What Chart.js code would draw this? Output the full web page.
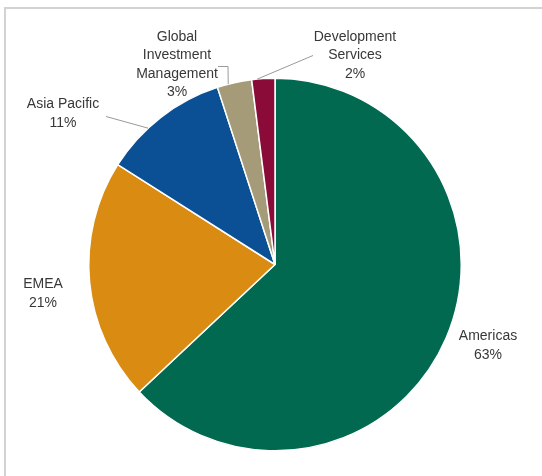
<!DOCTYPE html>
<html>
<head>
<meta charset="utf-8">
<script src="https://cdn.jsdelivr.net/npm/chart.js@4/dist/chart.umd.min.js"></script>
<style>
  html, body { margin: 0; padding: 0; background: #fff; overflow: hidden; }
  #wrap { position: relative; width: 542px; height: 476px; }
  #frame {
    position: absolute; left: 4px; top: 7px; right: -10px; bottom: -10px;
    border-top: 2px solid #d2d2d2; border-left: 2px solid #d2d2d2;
  }
  canvas { position: absolute; left: 0; top: 0; }
</style>
</head>
<body>
<div id="wrap">
  <div id="frame"></div>
  <canvas id="revChart" width="542" height="476"></canvas>
</div>
<script>
// revenue split by segment, clockwise from 12 o'clock
const regions = ['Americas', 'EMEA', 'Asia Pacific', 'Global\nInvestment\nManagement', 'Development\nServices'];
const shares = [63, 21, 11, 3, 2];
const sliceColors = ['#00694f', '#d98b12', '#0b5095', '#a59b78', '#8a0b38'];

// where each label block sits relative to the pie centre, and its leader line
const labelPlace = [
  { dx: 213, dy: 81 },
  { dx: -232, dy: 29 },
  { dx: -212, dy: -151, leader: [[-169, -148]], at: 0.37 },
  { dx: -98, dy: -200, leader: [[-57, -198], [-47, -198]], at: 0.32 },
  { dx: 80, dy: -209, leader: [[38, -209]], at: 0.24 }
];

const sliceLabels = {
  id: 'sliceLabels',
  afterDatasetsDraw(chart, args, opts) {
    const ctx = chart.ctx;
    const meta = chart.getDatasetMeta(0);
    ctx.save();
    ctx.font = opts.font;
    ctx.textAlign = 'center';
    ctx.textBaseline = 'middle';
    meta.data.forEach((arc, i) => {
      const p = labelPlace[i];
      const { x, y, startAngle, endAngle, outerRadius } =
        arc.getProps(['x', 'y', 'startAngle', 'endAngle', 'outerRadius'], true);

      if (p.leader) {
        const a = startAngle + (endAngle - startAngle) * p.at;
        ctx.beginPath();
        ctx.strokeStyle = opts.lineColor;
        ctx.lineWidth = 1;
        p.leader.forEach(([lx, ly], k) => {
          if (k === 0) ctx.moveTo(x + lx, y + ly);
          else ctx.lineTo(x + lx, y + ly);
        });
        ctx.lineTo(x + Math.cos(a) * outerRadius, y + Math.sin(a) * outerRadius);
        ctx.stroke();
      }

      const lines = regions[i].split('\n').concat(shares[i] + '%');
      const top = y + p.dy - (lines.length - 1) * opts.lineHeight / 2;
      ctx.fillStyle = opts.color;
      lines.forEach((t, k) => ctx.fillText(t, x + p.dx, top + k * opts.lineHeight));
    });
    ctx.restore();
  }
};

new Chart(document.getElementById('revChart'), {
  type: 'pie',
  data: {
    labels: regions,
    datasets: [{
      data: shares,
      backgroundColor: sliceColors,
      borderColor: '#ffffff',
      borderWidth: 1.5
    }]
  },
  options: {
    responsive: false,
    devicePixelRatio: 1,
    animation: false,
    layout: { padding: { left: 88, right: 80, top: 77, bottom: 24 } },
    plugins: {
      legend: { display: false },
      tooltip: { enabled: false },
      sliceLabels: {
        font: '14px "Liberation Sans", Arial, sans-serif',
        color: '#383838',
        lineColor: '#999999',
        lineHeight: 18.5
      }
    }
  },
  plugins: [sliceLabels]
});
</script>
</body>
</html>
